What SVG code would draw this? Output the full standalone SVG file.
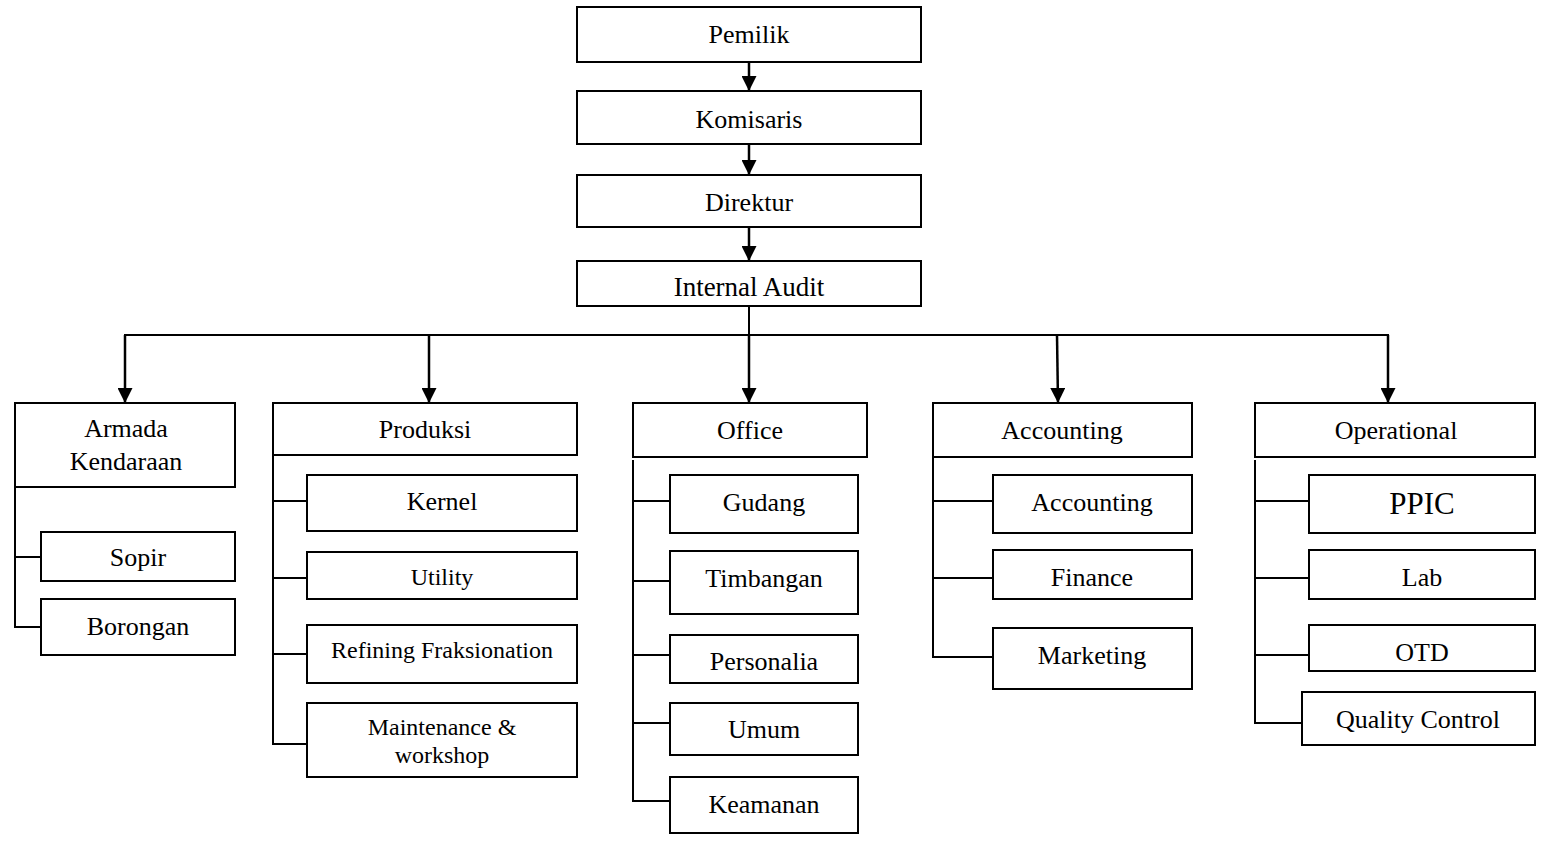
<svg xmlns="http://www.w3.org/2000/svg" width="1545" height="843" viewBox="0 0 1545 843">
<defs>
<marker id="ah" markerUnits="userSpaceOnUse" markerWidth="15" markerHeight="15" refX="15" refY="7.5" orient="auto" viewBox="0 0 15 15">
<path d="M0,0 L15,7.5 L0,15 z" fill="#000"/>
</marker>
<style>
.b{fill:#fff;stroke:#000;stroke-width:2}
.t{font-family:"Liberation Serif","Times New Roman",serif;font-size:26px;fill:#000;text-anchor:middle}
.s{font-size:24px}
.c{fill:none;stroke:#000;stroke-width:2}
.a{fill:none;stroke:#000;stroke-width:2.5;marker-end:url(#ah)}
</style>
</defs>
<rect width="1545" height="843" fill="#fff"/>
<g id="connectors">
<line class="a" x1="749" y1="62" x2="749" y2="91"/>
<line class="a" x1="749" y1="144" x2="749" y2="175"/>
<line class="a" x1="749" y1="227" x2="749" y2="261"/>
<line class="c" x1="749" y1="306" x2="749" y2="335"/>
<line class="c" x1="124" y1="335" x2="1389" y2="335"/>
<line class="a" x1="125" y1="335" x2="125" y2="403"/>
<line class="a" x1="429" y1="335" x2="429" y2="403"/>
<line class="a" x1="749" y1="335" x2="749" y2="403"/>
<line class="a" x1="1057" y1="335" x2="1058" y2="403"/>
<line class="a" x1="1388" y1="335" x2="1388" y2="403"/>
<path class="c" d="M15,487 V627 H45 M15,557 H41"/>
<path class="c" d="M273,455 V744 H307 M273,501 H307 M273,578 H307 M273,654 H307"/>
<path class="c" d="M633,460 V801 H670 M633,501 H670 M633,581 H670 M633,655 H670 M633,723 H670"/>
<path class="c" d="M933,457 V657 H993 M933,501 H993 M933,578 H993"/>
<path class="c" d="M1255,460 V723 H1302 M1255,501 H1309 M1255,578 H1309 M1255,655 H1309"/>
</g>
<g id="pemilik"><rect class="b" x="577" y="7" width="344" height="55"/><text class="t" x="749" y="43">Pemilik</text></g>
<g id="komisaris"><rect class="b" x="577" y="91" width="344" height="53"/><text class="t" x="749" y="128">Komisaris</text></g>
<g id="direktur"><rect class="b" x="577" y="175" width="344" height="52"/><text class="t" x="749" y="211">Direktur</text></g>
<g id="internal-audit"><rect class="b" x="577" y="261" width="344" height="45"/><text class="t" x="749" y="296" style="font-size:27px">Internal Audit</text></g>

<g id="armada"><rect class="b" x="15" y="403" width="220" height="84"/><text class="t" x="126" y="437">Armada</text><text class="t" x="126" y="470">Kendaraan</text></g>
<g id="sopir"><rect class="b" x="41" y="532" width="194" height="49"/><text class="t" x="138" y="566">Sopir</text></g>
<g id="borongan"><rect class="b" x="41" y="599" width="194" height="56"/><text class="t" x="138" y="635">Borongan</text></g>

<g id="produksi"><rect class="b" x="273" y="403" width="304" height="52"/><text class="t" x="425" y="438">Produksi</text></g>
<g id="kernel"><rect class="b" x="307" y="475" width="270" height="56"/><text class="t" x="442" y="510">Kernel</text></g>
<g id="utility"><rect class="b" x="307" y="552" width="270" height="47"/><text class="t s" x="442" y="585">Utility</text></g>
<g id="refining"><rect class="b" x="307" y="625" width="270" height="58"/><text class="t s" x="442" y="658">Refining Fraksionation</text></g>
<g id="maintenance"><rect class="b" x="307" y="703" width="270" height="74"/><text class="t s" x="442" y="735">Maintenance &amp;</text><text class="t s" x="442" y="763">workshop</text></g>

<g id="office"><rect class="b" x="633" y="403" width="234" height="54"/><text class="t" x="750" y="439">Office</text></g>
<g id="gudang"><rect class="b" x="670" y="475" width="188" height="58"/><text class="t" x="764" y="511">Gudang</text></g>
<g id="timbangan"><rect class="b" x="670" y="551" width="188" height="63"/><text class="t" x="764" y="587">Timbangan</text></g>
<g id="personalia"><rect class="b" x="670" y="635" width="188" height="48"/><text class="t" x="764" y="670">Personalia</text></g>
<g id="umum"><rect class="b" x="670" y="703" width="188" height="52"/><text class="t" x="764" y="738">Umum</text></g>
<g id="keamanan"><rect class="b" x="670" y="777" width="188" height="56"/><text class="t" x="764" y="813">Keamanan</text></g>

<g id="accounting-head"><rect class="b" x="933" y="403" width="259" height="54"/><text class="t" x="1062" y="439">Accounting</text></g>
<g id="accounting"><rect class="b" x="993" y="475" width="199" height="58"/><text class="t" x="1092" y="511">Accounting</text></g>
<g id="finance"><rect class="b" x="993" y="550" width="199" height="49"/><text class="t" x="1092" y="586">Finance</text></g>
<g id="marketing"><rect class="b" x="993" y="628" width="199" height="61"/><text class="t" x="1092" y="664">Marketing</text></g>

<g id="operational"><rect class="b" x="1255" y="403" width="280" height="54"/><text class="t" x="1396" y="439">Operational</text></g>
<g id="ppic"><rect class="b" x="1309" y="475" width="226" height="58"/><text class="t" x="1422" y="514" style="font-size:31px">PPIC</text></g>
<g id="lab"><rect class="b" x="1309" y="550" width="226" height="49"/><text class="t" x="1422" y="586">Lab</text></g>
<g id="otd"><rect class="b" x="1309" y="625" width="226" height="46"/><text class="t" x="1422" y="661">OTD</text></g>
<g id="quality-control"><rect class="b" x="1302" y="692" width="233" height="53"/><text class="t" x="1418" y="728">Quality Control</text></g>
</svg>
